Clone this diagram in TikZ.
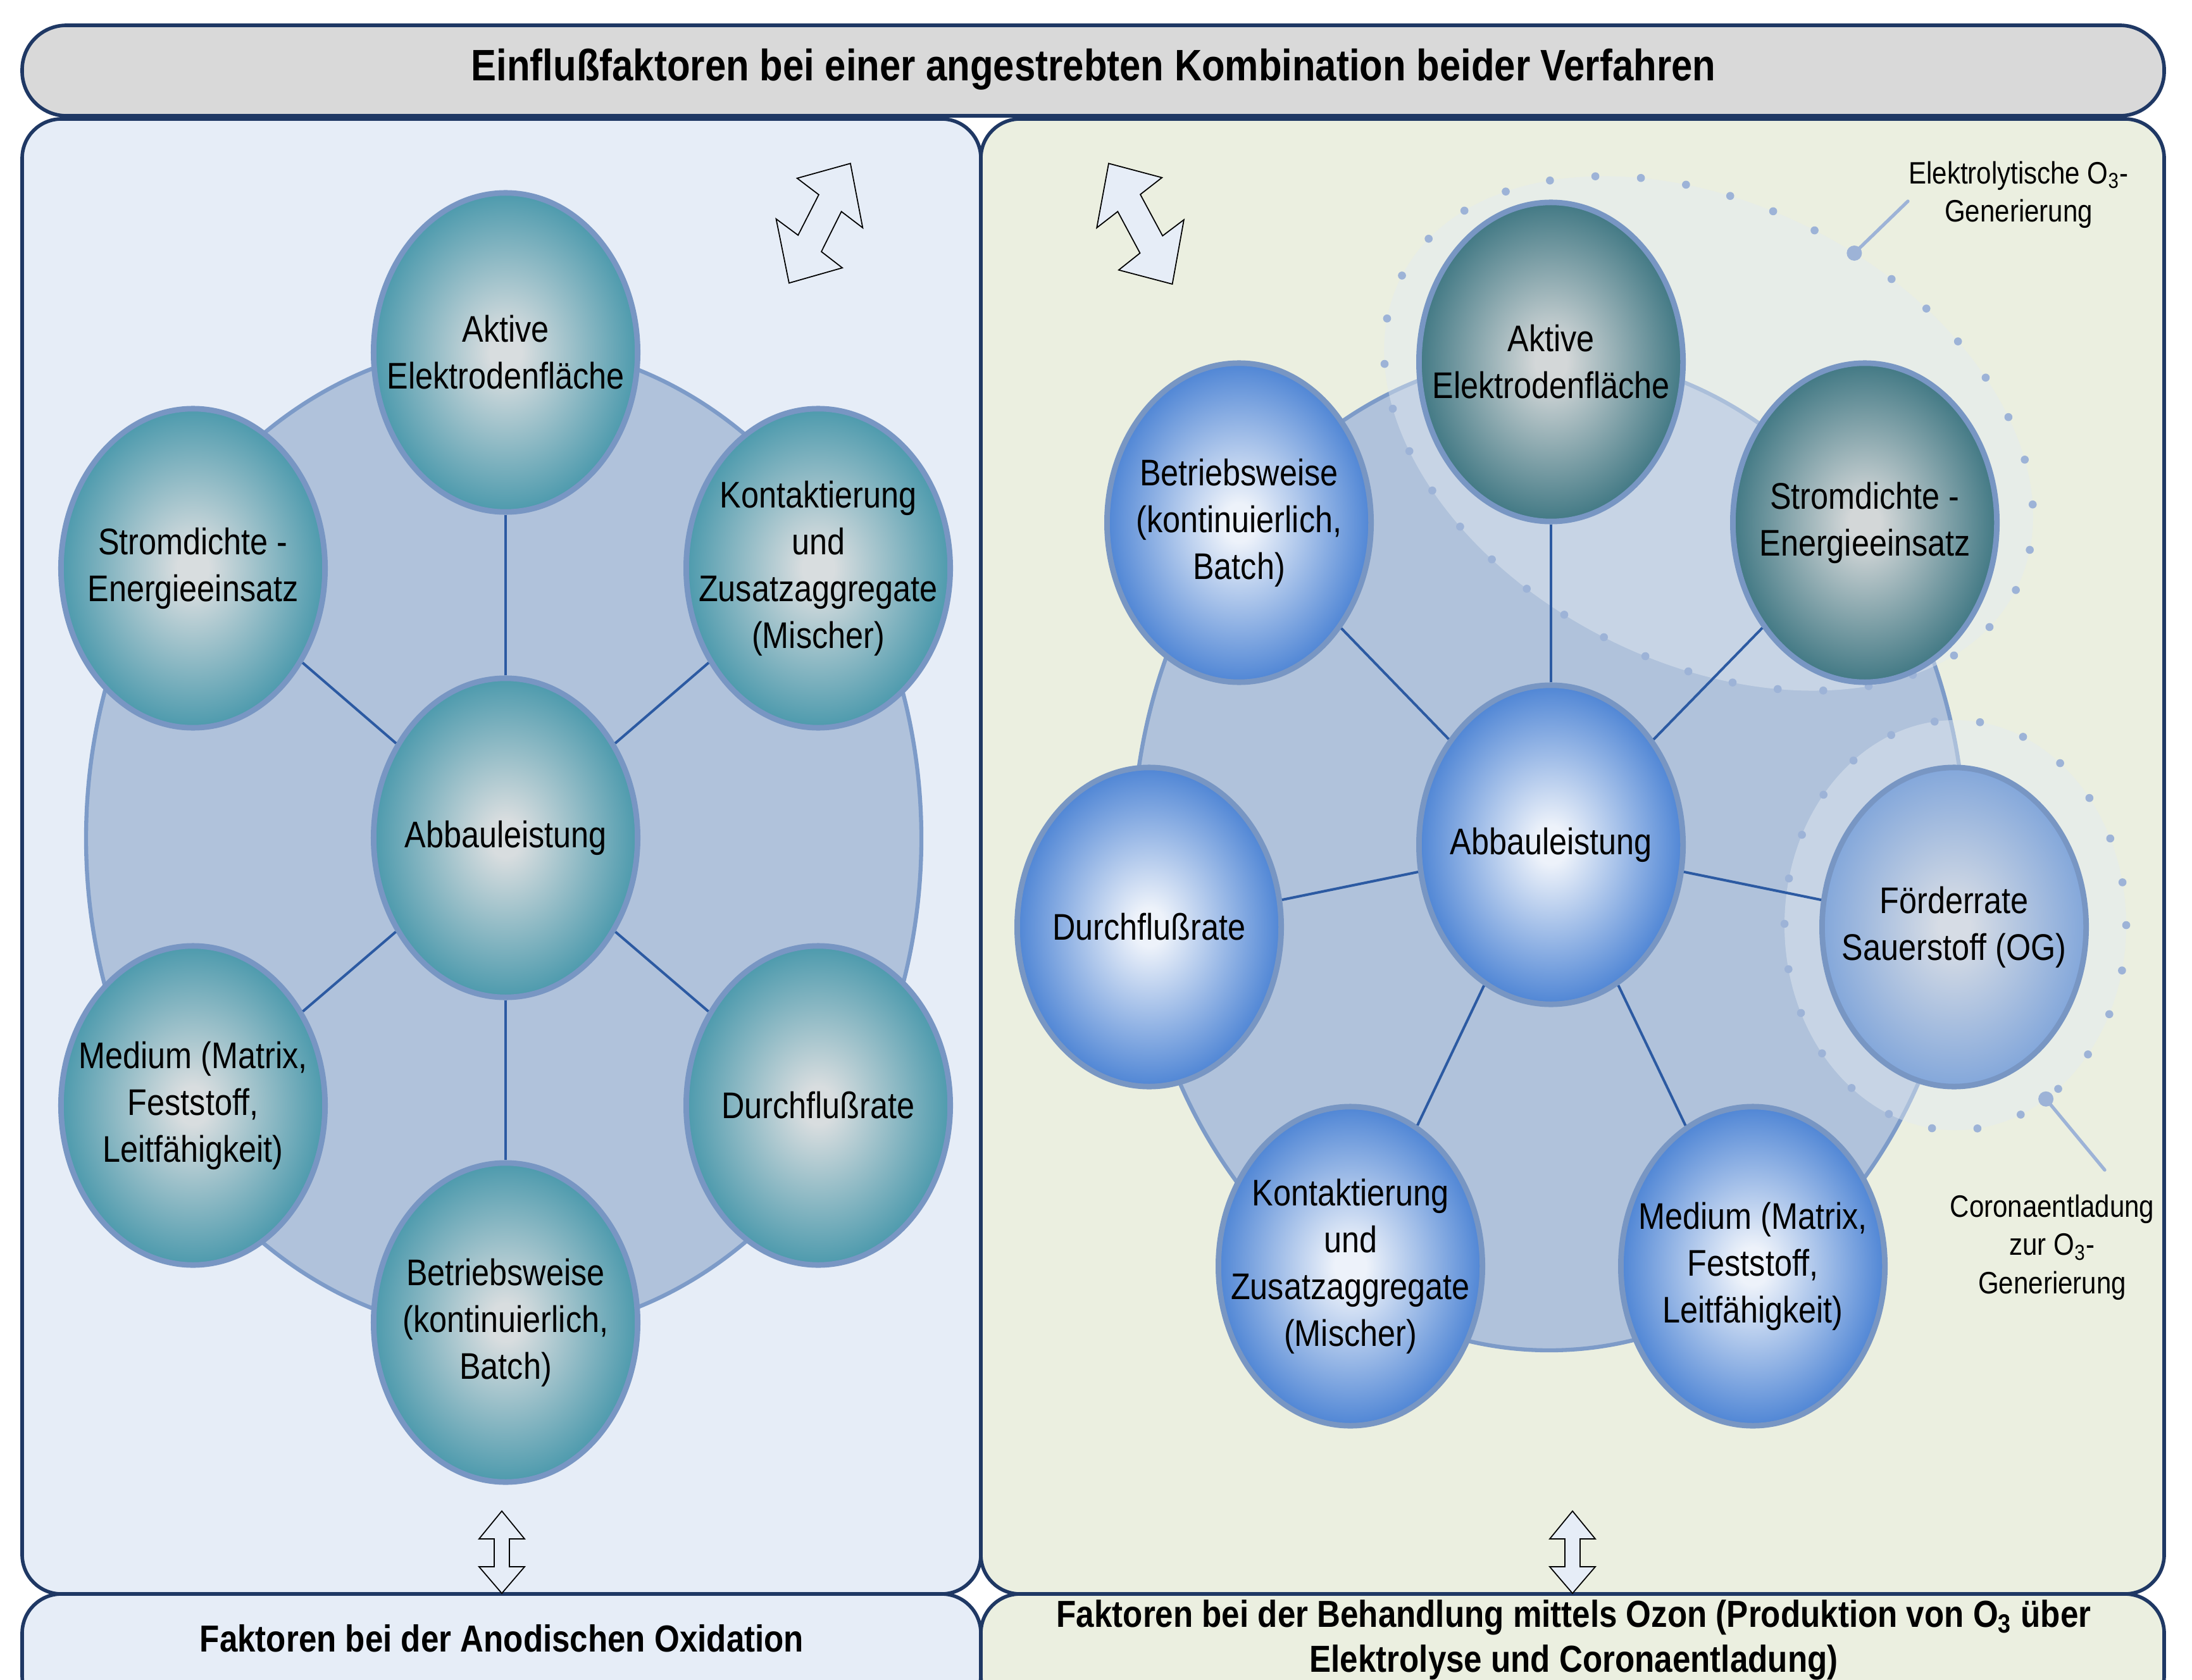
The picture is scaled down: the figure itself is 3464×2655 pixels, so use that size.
\documentclass[tikz,border=0pt]{standalone}
\usepackage{fontspec}
\setmainfont{Liberation Sans}[FakeStretch=0.86]
\usetikzlibrary{shapes.geometric}

% palette
\definecolor{navy}{HTML}{1F3864}
\definecolor{titlegray}{HTML}{D9D9D9}
\definecolor{paneblue}{HTML}{E6EDF7}
\definecolor{panegreen}{HTML}{EBEFE0}
\definecolor{hubfill}{HTML}{B0C2DB}
\definecolor{hubline}{HTML}{7D9BC8}
\definecolor{orbline}{HTML}{7896C3}
\definecolor{linkblue}{HTML}{2C5AA2}
\definecolor{dotblue}{HTML}{9DB3D7}
\definecolor{zonefill}{HTML}{E4EBF2}
\definecolor{tealE}{HTML}{3A91A6}
\definecolor{tealC}{HTML}{D8DDDF}
\definecolor{deepE}{HTML}{2E6C79}
\definecolor{deepC}{HTML}{D3D7D8}
\definecolor{blueE}{HTML}{3A77D0}
\definecolor{blueC}{HTML}{EDF2FA}
\definecolor{paleE}{HTML}{78A0D9}
\definecolor{paleC}{HTML}{D6DCE5}

% radial fills of the factor bubbles
\pgfdeclareradialshading{tealorb}{\pgfpoint{0bp}{0bp}}{color(0bp)=(tealC); color(3bp)=(tealC); color(28bp)=(tealE); color(50bp)=(tealE)}
\pgfdeclareradialshading{deeporb}{\pgfpoint{0bp}{0bp}}{color(0bp)=(deepC); color(3bp)=(deepC); color(28bp)=(deepE); color(50bp)=(deepE)}
\pgfdeclareradialshading{blueorb}{\pgfpoint{0bp}{0bp}}{color(0bp)=(blueC); color(3bp)=(blueC); color(28bp)=(blueE); color(50bp)=(blueE)}
\pgfdeclareradialshading{paleorb}{\pgfpoint{0bp}{0bp}}{color(0bp)=(paleC); color(3bp)=(paleC); color(28bp)=(paleE); color(50bp)=(paleE)}

\newcommand\orbfont{\fontsize{16.65}{21.05}\selectfont}
\newcommand\lblfont{\fontsize{13.9}{17.2}\selectfont}
\newcommand\headfont{\bfseries\fontsize{19.8}{23}\selectfont}
\newcommand\barfont{\bfseries\fontsize{16.9}{20.2}\selectfont}

\tikzset{
  frame/.style={draw=navy, line width=1.6pt},
  hub/.style={fill=hubfill, draw=hubline, line width=1.8pt},
  orb/.style={ellipse, draw=orbline, line width=2.5pt,
    minimum width=4.17cm, minimum height=5.04cm,
    inner xsep=-3cm, inner ysep=-3cm, align=center, font=\orbfont},
  tealnode/.style={orb, shade, shading=tealorb},
  deepnode/.style={orb, shade, shading=deeporb},
  bluenode/.style={orb, shade, shading=blueorb},
  palenode/.style={orb, shade, shading=paleorb},
  link/.style={draw=linkblue, line width=1.15pt},
  zone/.style={fill=zonefill, fill opacity=0.45},
  zonedots/.style={draw=dotblue, line width=3.6pt, line cap=round, dash pattern=on 0pt off 20.5pt},
  leader/.style={draw=dotblue, line width=1.5pt, line cap=round},
  note/.style={font=\lblfont, align=center},
  swap/.style={fill=paneblue, draw=black, line width=0.5pt, line join=miter},
  updown/.pic={
    \path[swap] (0,0) -- (36,44) -- (12,44) -- (12,88) -- (36,88) -- (0,130)
      -- (-36,88) -- (-12,88) -- (-12,44) -- (-36,44) -- cycle;
  }
}

\begin{document}
\begin{tikzpicture}[x=0.01cm, y=-0.01cm]
\clip (0,0) rectangle (3464,2655);
\fill[white] (0,0) rectangle (3464,2655);

% frames
\path[frame, fill=titlegray, rounded corners=0.7cm] (35,40) rectangle (3420,183);
\path[frame, fill=paneblue, rounded corners=0.62cm] (35,188) rectangle (1550,2519);
\path[frame, fill=panegreen, rounded corners=0.62cm] (1550,188) rectangle (3420,2519);
\path[frame, fill=paneblue, rounded corners=0.62cm] (35,2519) rectangle (1550,2710);
\path[frame, fill=panegreen, rounded corners=0.62cm] (1550,2519) rectangle (3420,2710);

\node[font=\headfont] (title) at (1728,110) {Einflußfaktoren bei einer angestrebten Kombination beider Verfahren};
\node[font=\barfont] (botL) at (793,2589) {Faktoren bei der Anodischen Oxidation};
\node[font=\barfont, align=center] (botR) at (2487,2592) {Faktoren bei der Behandlung mittels Ozon (Produktion von O\textsubscript{3} über\\Elektrolyse und Coronaentladung)};

% ---------- anodic oxidation ----------
\path[hub] (796,1325) ellipse [x radius=660, y radius=782];

\node[tealnode] (lAkt) at (799,557) {Aktive\\Elektrodenfläche};
\node[tealnode] (lStr) at (305,898) {Stromdichte -\\Energieeinsatz};
\node[tealnode] (lKon) at (1293,898) {Kontaktierung\\und\\Zusatzaggregate\\(Mischer)};
\node[tealnode] (lAbb) at (799,1324) {Abbauleistung};
\node[tealnode] (lMed) at (305,1747) {Medium (Matrix,\\Feststoff,\\Leitfähigkeit)};
\node[tealnode] (lDur) at (1293,1747) {Durchflußrate};
\node[tealnode] (lBet) at (799,2090) {Betriebsweise\\(kontinuierlich,\\Batch)};

\foreach \t in {lAkt,lStr,lKon,lMed,lDur,lBet}
  \draw[link] (lAbb) -- (\t);

% ---------- ozone treatment ----------
\path[hub] (2448,1348) ellipse [x radius=658, y radius=786];

% electrolytic ozone zone
\begin{scope}[shift={(2700,685)}, rotate=-27]
  \path[zone] (0,0) ellipse [x radius=545, y radius=362];
  \draw[zonedots] (0,0) ellipse [x radius=545, y radius=362];
  \coordinate (eDot) at ({545*cos(-82)},{362*sin(-82)});
\end{scope}
% corona zone
\path[zone] (3090,1462) ellipse [x radius=270, y radius=324];
\draw[zonedots] (3090,1462) ellipse [x radius=270, y radius=324];
\coordinate (cDot) at ({3090+270*cos(58)},{1462+324*sin(58)});

\coordinate (eEnd) at (3015,318);
\coordinate (cEnd) at (3326,1849);
\draw[leader] (eDot) -- (eEnd);
\draw[leader] (cDot) -- (cEnd);
\fill[dotblue] (eDot) circle [radius=12];
\fill[dotblue] (cDot) circle [radius=12];

\node[note] (eLbl) at (3190,308) {Elektrolytische O\textsubscript{3}-\\Generierung};
\node[note] (cLbl) at (3243,1971) {Coronaentladung\\zur O\textsubscript{3}-\\Generierung};

\node[deepnode] (rAkt) at (2451,572) {Aktive\\Elektrodenfläche};
\node[deepnode] (rStr) at (2947,826) {Stromdichte -\\Energieeinsatz};
\node[bluenode] (rBet) at (1958,826) {Betriebsweise\\(kontinuierlich,\\Batch)};
\node[bluenode] (rAbb) at (2451,1335) {Abbauleistung};
\node[bluenode] (rDur) at (1816,1465) {Durchflußrate};
\node[palenode] (rFoe) at (3088,1465) {Förderrate\\Sauerstoff (OG)};
\node[bluenode] (rKon) at (2134,2001) {Kontaktierung\\und\\Zusatzaggregate\\(Mischer)};
\node[bluenode] (rMed) at (2770,2001) {Medium (Matrix,\\Feststoff,\\Leitfähigkeit)};

\foreach \t in {rAkt,rStr,rBet,rDur,rFoe,rKon,rMed}
  \draw[link] (rAbb) -- (\t);

% exchange arrows
\path[swap] (1343.9,258.3) -- (1259.7,281.7) -- (1293.9,307.7) -- (1261.2,371.7)
  -- (1226.5,346) -- (1246.9,447.3) -- (1331.1,423.3) -- (1298,397.7)
  -- (1329.6,334.3) -- (1363.3,360) -- cycle;
\path[swap] (1752,258.3) -- (1836.2,280.7) -- (1802,307.3) -- (1837.2,372.7)
  -- (1870.9,347.3) -- (1852.6,449) -- (1767.9,426.7) -- (1801.5,400)
  -- (1766.3,334.3) -- (1733.2,360) -- cycle;
\pic at (793,2388) {updown};
\pic at (2485,2388) {updown};
\end{tikzpicture}
\end{document}
